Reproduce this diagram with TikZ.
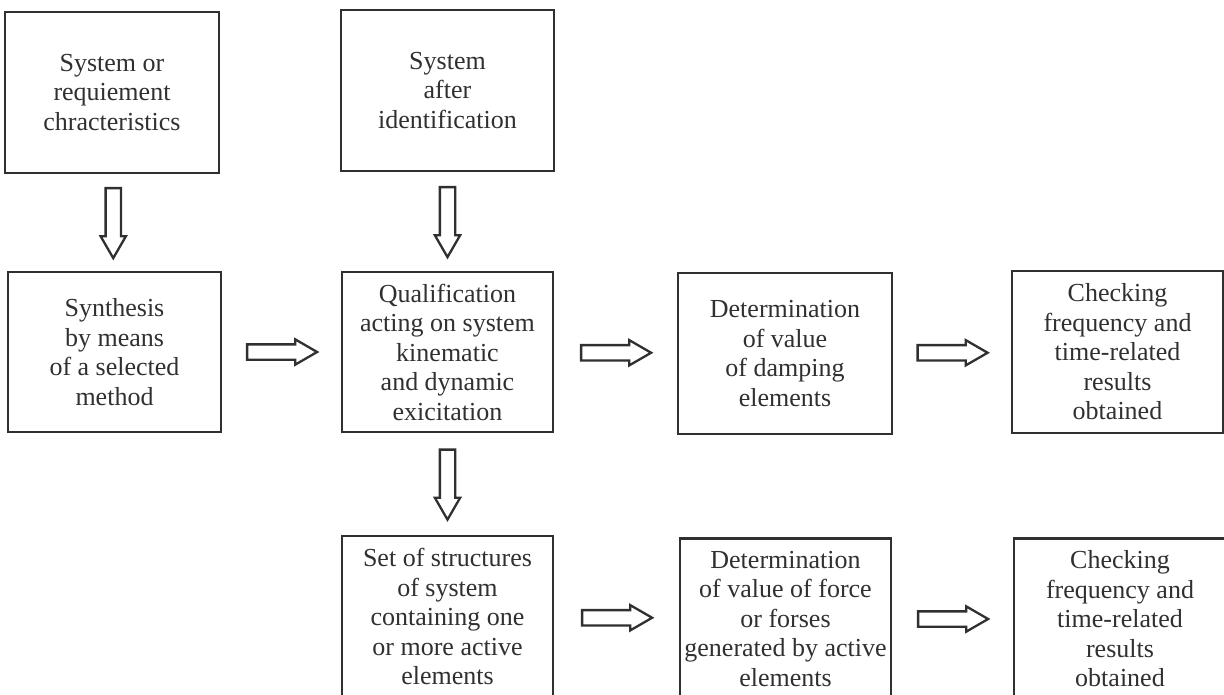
\documentclass[tikz,border=0pt]{standalone}
\usepackage{fontspec}
\setmainfont{Liberation Serif}
\usetikzlibrary{shapes.arrows}
\definecolor{ink}{HTML}{303030}
\begin{document}
\begin{tikzpicture}[x=1pt,y=-1pt,
    box/.style={draw=ink,text=ink,line width=2.3pt,align=center,inner sep=0pt,
      font=\fontsize{26}{29.5}\selectfont},
    fat/.style={single arrow,draw=ink,line width=2.3pt,inner xsep=0pt,inner ysep=6.5pt,
      minimum height=70pt,single arrow head extend=5pt,
      single arrow tip angle=60,midway,xshift=-6pt}]
  \useasboundingbox (0,0) rectangle (1224,694);
  \node[box,minimum width=214,minimum height=161] (req) at (112,92.5)
    {System or\\requiement\\chracteristics};
  \node[box,minimum width=213,minimum height=161] (ident) at (447.5,90.5)
    {System\\after\\identification};
  \node[box,minimum width=213,minimum height=160] (synth) at (114.5,352)
    {Synthesis\\by means\\of a selected\\method};
  \node[box,minimum width=211,minimum height=160] (qual) at (447.5,352)
    {Qualification\\acting on system\\kinematic\\and dynamic\\exicitation};
  \node[box,minimum width=214,minimum height=161] (damp) at (785,353.5)
    {Determination\\of value\\of damping\\elements};
  \node[box,minimum width=211,minimum height=162] (check) at (1117.5,352)
    {Checking\\frequency and\\time-related\\results\\obtained};
  \node[box,minimum width=211,minimum height=161] (struct) at (447.5,616.5)
    {Set of structures\\of system\\containing one\\or more active\\elements};
  \node[box,minimum width=211,minimum height=161] (force) at (785.5,619)
    {Determination\\of value of force\\or forses\\generated by active\\elements};
  \node[box,minimum width=212,minimum height=161] (recheck) at (1120,619)
    {Checking\\frequency and\\time-related\\results\\obtained};
  \path (req) -- (synth) node[rotate=-90,fat] {};
  \path (ident) -- (qual) node[rotate=-90,fat] {};
  \path (synth) -- (qual) node[fat] {};
  \path (qual) -- (damp) node[fat] {};
  \path (damp) -- (check) node[fat] {};
  \path (qual) -- (struct) node[rotate=-90,fat] {};
  \path (struct) -- (force) node[fat] {};
  \path (force) -- (recheck) node[fat] {};
\end{tikzpicture}
\end{document}
